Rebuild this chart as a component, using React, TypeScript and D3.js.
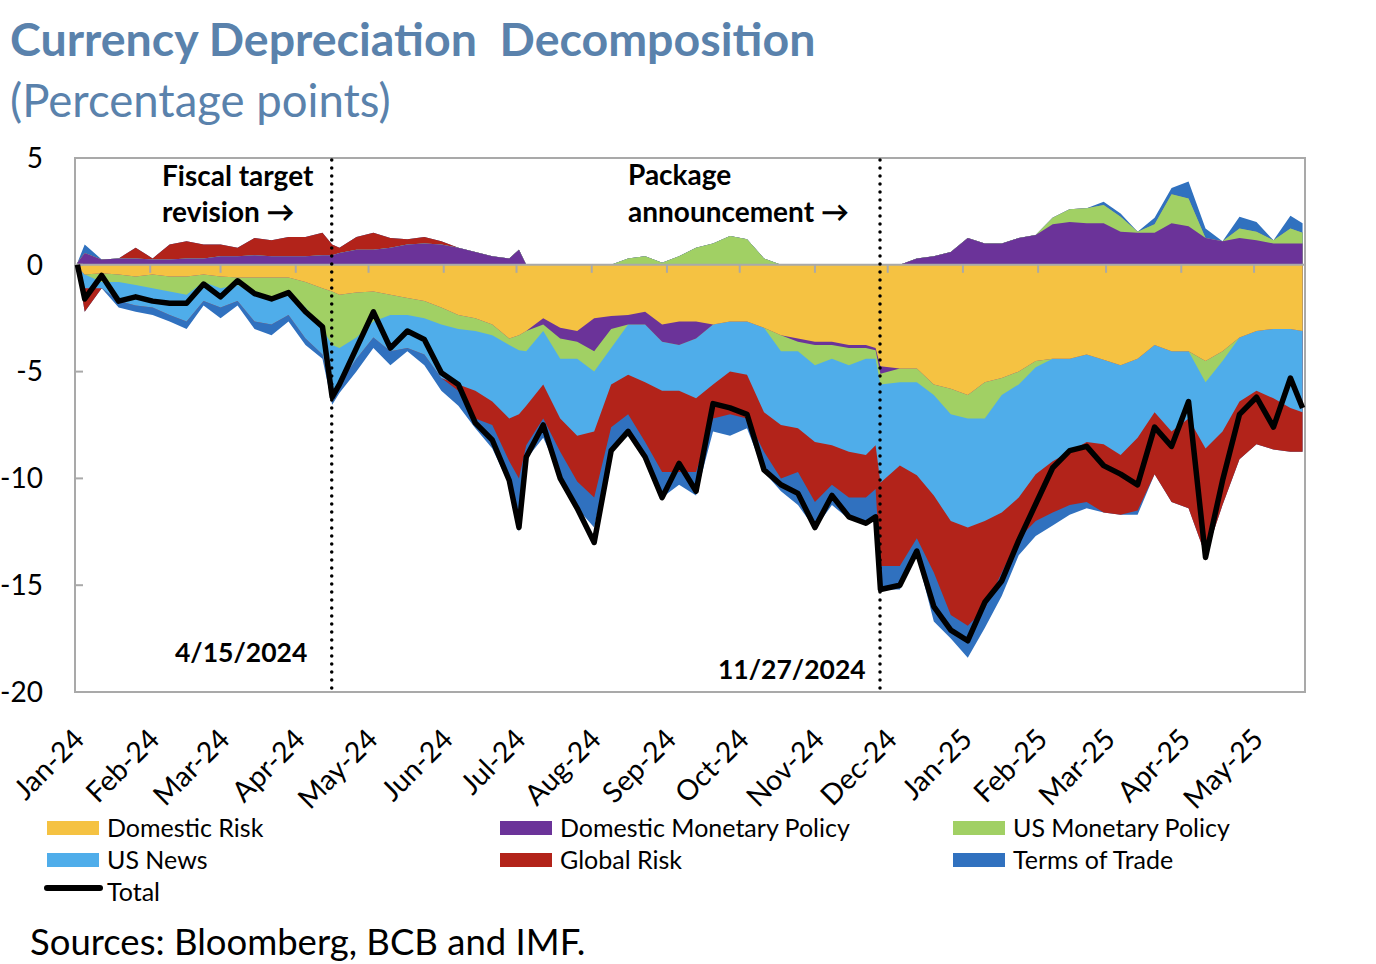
import * as d3 from "d3"

// weekly readings (plus a few event days) taken off the reference chart
const dates = [
  "2024-01-02", "2024-01-05", "2024-01-12", "2024-01-19", "2024-01-26",
  "2024-02-02", "2024-02-09", "2024-02-16", "2024-02-23",
  "2024-03-01", "2024-03-08", "2024-03-15", "2024-03-22", "2024-03-29",
  "2024-04-05", "2024-04-12", "2024-04-16", "2024-04-19", "2024-04-26",
  "2024-05-03", "2024-05-10", "2024-05-17", "2024-05-24", "2024-05-31",
  "2024-06-07", "2024-06-14", "2024-06-21", "2024-06-28",
  "2024-07-02", "2024-07-05", "2024-07-12", "2024-07-19", "2024-07-26",
  "2024-08-02", "2024-08-09", "2024-08-16", "2024-08-23", "2024-08-30",
  "2024-09-06", "2024-09-13", "2024-09-20", "2024-09-27",
  "2024-10-04", "2024-10-11", "2024-10-18", "2024-10-25",
  "2024-11-01", "2024-11-08", "2024-11-15", "2024-11-22", "2024-11-26", "2024-11-28",
  "2024-12-06", "2024-12-13", "2024-12-20", "2024-12-27",
  "2025-01-03", "2025-01-10", "2025-01-17", "2025-01-24", "2025-01-31",
  "2025-02-07", "2025-02-14", "2025-02-21", "2025-02-28",
  "2025-03-07", "2025-03-14", "2025-03-21", "2025-03-28",
  "2025-04-04", "2025-04-11", "2025-04-18", "2025-04-25",
  "2025-05-02", "2025-05-09", "2025-05-16", "2025-05-21",
]

const domesticRisk = [
  -0.1, -0.45, -0.4, -0.45, -0.55,
  -0.45, -0.55, -0.55, -0.45,
  -0.55, -0.6, -0.6, -0.6, -0.6,
  -0.8, -1.1, -1.25, -1.4, -1.3,
  -1.25, -1.4, -1.55, -1.7, -2.0,
  -2.35, -2.5, -2.8, -3.45,
  -3.3, -3.1, -2.5, -2.95, -3.1,
  -2.5, -2.4, -2.35, -2.2, -2.8,
  -2.65, -2.65, -2.8, -2.65,
  -2.65, -2.95, -3.3, -3.45,
  -3.6, -3.6, -3.75, -3.75, -3.9, -4.75,
  -4.85, -4.85, -5.6, -5.8,
  -6.1, -5.5, -5.3, -5.0, -4.5,
  -4.4, -4.4, -4.2, -4.45,
  -4.7, -4.4, -3.75, -4.05,
  -4.05, -4.5, -4.05, -3.4,
  -3.1, -3.0, -3.0, -3.1,
]

const domesticMonetaryPolicy = [
  0.1, 0.55, 0.25, 0.3, 0.3,
  0.25, 0.25, 0.3, 0.3,
  0.4, 0.4, 0.45, 0.4, 0.4,
  0.4, 0.45, 0.45, 0.55, 0.7,
  0.7, 0.8, 0.95, 1.0, 0.95,
  0.8, 0.6, 0.4, 0.3,
  0.7, 0, -0.3, -0.5, -0.5,
  -1.55, -0.6, -0.45, -0.6, -0.8,
  -1.1, -0.8, 0, 0,
  0, 0, 0, -0.15,
  -0.15, -0.15, -0.15, -0.15, -0.1, -0.35,
  0, 0.3, 0.4, 0.6,
  1.25, 1.0, 1.0, 1.25, 1.4,
  1.9, 2.0, 1.95, 1.95,
  1.55, 1.5, 1.5, 1.95,
  1.8, 1.25, 1.1, 1.25,
  1.15, 1.0, 1.0, 1.0,
]

const usMonetaryPolicy = [
  0, 0, -0.4, -0.35, -0.4,
  -0.65, -0.7, -0.85, -0.35,
  -0.55, -0.35, -0.8, -0.95, -0.8,
  -1.2, -1.9, -2.5, -2.5, -2.1,
  -1.4, -0.95, -0.8, -0.8, -0.8,
  -0.65, -0.6, -0.5, -0.3,
  -0.7, -0.95, -0.3, -0.95, -0.8,
  -0.95, -0.9, 0.3, 0.4, 0.1,
  0.4, 0.8, 1.0, 1.35,
  1.2, 0.3, -0.75, -0.45,
  -0.95, -0.65, -0.8, -0.5, -0.4, -0.5,
  -0.65, -0.65, -0.5, -1.2,
  -1.1, -1.7, -0.8, -0.6, -0.3,
  0.3, 0.6, 0.7, 0.85,
  0.7, 0.05, 0.4, 1.35,
  1.3, -1.0, -0.45, 0.45,
  0.4, 0.15, 0.7, 0.5,
]

const usNews = [
  0, -0.65, -0.3, -0.9, -0.95,
  -0.9, -1.1, -1.25, -0.9,
  -0.9, -0.75, -1.25, -1.25, -0.95,
  -1.45, -1.2, -2.35, -1.7, -1.0,
  -0.75, -1.7, -1.55, -1.7, -2.5,
  -2.6, -2.8, -3.1, -3.45,
  -3.0, -2.55, -2.5, -2.8, -3.6,
  -2.8, -1.7, -2.35, -2.7, -2.3,
  -2.15, -2.8, -2.8, -2.35,
  -2.5, -3.95, -3.45, -3.6,
  -3.6, -4.05, -4.05, -4.5, -4.05, -4.6,
  -3.9, -4.35, -4.7, -5.0,
  -5.1, -4.8, -5.5, -5.3, -5.0,
  -4.8, -4.35, -4.1, -3.95,
  -4.2, -3.7, -3.15, -3.75,
  -3.15, -3.1, -3.3, -3.0,
  -2.8, -3.25, -3.7, -3.8,
]

const globalRisk = [
  0, -1.1, 0, 0, 0.5,
  0.05, 0.7, 0.8, 0.65,
  0.55, 0.4, 0.8, 0.75, 0.9,
  0.9, 1.05, 0.5, 0.25, 0.6,
  0.8, 0.45, 0.25, 0.3, 0.15,
  -0.3, -1.3, -1.1, -2.0,
  -3.0, -1.85, -1.6, -1.55, -2.15,
  -3.1, -2.0, -1.85, -2.8, -3.8,
  -3.8, -3.45, -1.6, -2.0,
  -2.05, -1.85, -2.5, -2.05,
  -2.8, -1.85, -2.15, -2.0, -2.05, -3.9,
  -4.7, -2.95, -3.6, -4.4,
  -4.6, -4.1, -2.8, -1.9, -2.2,
  -2.4, -2.5, -2.8, -3.2,
  -2.8, -3.4, -2.9, -3.3,
  -4.2, -5.0, -3.45, -2.7,
  -2.5, -2.4, -2.05, -1.85,
]

const termsOfTrade = [
  0, 0.4, 0, -0.3, -0.3,
  -0.35, -0.3, -0.35, -0.2,
  -0.5, -0.2, -0.35, -0.5, -0.3,
  -0.3, -0.2, -0.45, -0.4, -0.6,
  -0.5, -0.65, -0.15, -0.5, -0.6,
  -0.7, -0.45, -1.1, -1.1,
  -2.5, -0.65, -0.9, -1.1, -1.25,
  -1.4, -1.1, -1.0, -0.75, -1.2,
  -0.6, -1.1, -0.6, -1.0,
  -0.45, -0.95, -0.6, -1.55,
  -1.25, -0.95, -1.0, -1.1, -1.4, -1.1,
  -1.1, -0.8, -2.3, -1.1,
  -1.5, -0.9, -1.1, -0.8, -0.7,
  -0.6, -0.45, -0.3, 0.15,
  0.15, -0.2, 0.3, 0.3,
  0.8, 0.45, 0, 0.55,
  0.45, 0, 0.6, 0.45,
]

const total = [
  0, -1.6, -0.5, -1.7, -1.5,
  -1.7, -1.8, -1.8, -0.9,
  -1.5, -0.75, -1.35, -1.6, -1.3,
  -2.2, -2.9, -6.2, -5.6, -3.9,
  -2.2, -3.9, -3.1, -3.5, -5.05,
  -5.6, -7.4, -8.2, -10.1,
  -12.3, -9.0, -7.5, -10.0, -11.4,
  -13.0, -8.7, -7.8, -9.0, -10.9,
  -9.3, -10.6, -6.5, -6.7,
  -7.0, -9.6, -10.3, -10.7,
  -12.3, -10.8, -11.8, -12.1, -11.8, -15.2,
  -15.0, -13.4, -16.0, -17.1,
  -17.6, -15.8, -14.8, -12.9, -11.2,
  -9.5, -8.7, -8.5, -9.4,
  -9.8, -10.3, -7.6, -8.5,
  -6.4, -13.7, -10.1, -7.0,
  -6.2, -7.6, -5.3, -6.7,
]

const seriesNames = [
  "Domestic Risk",
  "Domestic Monetary Policy",
  "US Monetary Policy",
  "US News",
  "Global Risk",
  "Terms of Trade",
]
const seriesColors = ["#F5C242", "#6B3399", "#A1D064", "#4FADEA", "#B2231A", "#3071BF"]

const monthLabels = [
  "Jan-24", "Feb-24", "Mar-24", "Apr-24", "May-24", "Jun-24", "Jul-24", "Aug-24", "Sep-24",
  "Oct-24", "Nov-24", "Dec-24", "Jan-25", "Feb-25", "Mar-25", "Apr-25", "May-25",
]
const yTicks = [5, 0, -5, -10, -15, -20]
const eventDates = ["2024-04-15", "2024-11-27"]

const FONT = "Lato, 'Open Sans', sans-serif"
const GREY = "#A9A9A9"

export default function App() {
  const width = 1376
  const height = 964
  const plot = { left: 75, right: 1305, top: 158, bottom: 692 }

  const parseDay = d3.timeParse("%Y-%m-%d")
  const parseMonth = d3.timeParse("%b-%y")
  const dts = dates.map((d) => parseDay(d) as Date)
  const values = [domesticRisk, domesticMonetaryPolicy, usMonetaryPolicy, usNews, globalRisk, termsOfTrade]

  const x = d3
    .scaleTime()
    .domain([new Date(2024, 0, 1), new Date(2025, 4, 22)])
    .range([plot.left, plot.right])
  const y = d3.scaleLinear().domain([-20, 5]).range([plot.bottom, plot.top])

  // split every series into its positive and negative part so bands never cross zero
  const posRows = dts.map((date, i) => {
    const r: any = { date }
    seriesNames.forEach((k, j) => (r[k] = Math.max(0, values[j][i])))
    return r
  })
  const negRows = dts.map((date, i) => {
    const r: any = { date }
    seriesNames.forEach((k, j) => (r[k] = Math.min(0, values[j][i])))
    return r
  })
  const stack = d3.stack<any>().keys(seriesNames)
  const pos = stack(posRows)
  const neg = stack(negRows)

  // paint cumulative areas outermost first, so no seams show between bands
  const area = d3
    .area<any>()
    .x((d) => x(d.data.date))
    .y0(y(0))
    .y1((d) => y(d[1]))

  const line = d3
    .line<number>()
    .x((_, i) => x(dts[i]))
    .y((d) => y(d))

  const order = d3.range(seriesNames.length).reverse()
  const months = monthLabels.map((m) => parseMonth(m) as Date)

  return (
    <svg
      width={width}
      height={height}
      style={{ position: "absolute", left: 0, top: 0, background: "#fff" }}
      fontFamily={FONT}
    >
      <text x={10} y={56} fontSize={46.5} fontWeight={700} fill="#5A82AC" style={{ whiteSpace: "pre" }}>
        {"Currency Depreciation  Decomposition"}
      </text>
      <text x={10} y={117} fontSize={45.5} fill="#5A82AC">
        (Percentage points)
      </text>

      {/* stacked contributions */}
      {order.map((k) => (
        <path key={"p" + k} d={area(pos[k]) || ""} fill={seriesColors[k]} />
      ))}
      {order.map((k) => (
        <path key={"n" + k} d={area(neg[k]) || ""} fill={seriesColors[k]} />
      ))}

      {/* plot frame, zero line and ticks */}
      <rect
        x={plot.left}
        y={plot.top}
        width={plot.right - plot.left}
        height={plot.bottom - plot.top}
        fill="none"
        stroke={GREY}
        strokeWidth={2}
      />
      <line x1={plot.left} x2={plot.right} y1={y(0)} y2={y(0)} stroke={GREY} strokeWidth={2} />
      {months.map((m, i) => (
        <line key={"mt" + i} x1={x(m)} x2={x(m)} y1={y(0)} y2={y(0) + 8} stroke={GREY} strokeWidth={2} />
      ))}
      {yTicks.map((t) => (
        <line key={"yt" + t} x1={plot.left} x2={plot.left + 8} y1={y(t)} y2={y(t)} stroke={GREY} strokeWidth={2} />
      ))}
      {yTicks.map((t) => (
        <text key={"yl" + t} x={43} y={y(t)} dy="0.35em" textAnchor="end" fontSize={28} fill="#000">
          {t}
        </text>
      ))}
      {months.map((m, i) => (
        <text
          key={"ml" + i}
          transform={`translate(${x(m) + 11},${741}) rotate(-45)`}
          textAnchor="end"
          fontSize={28.5}
          fill="#000"
        >
          {monthLabels[i]}
        </text>
      ))}

      {/* event markers */}
      {eventDates.map((d) => {
        const xe = x(parseDay(d) as Date) + 2
        return (
          <line
            key={d}
            x1={xe}
            x2={xe}
            y1={plot.top + 2}
            y2={plot.bottom}
            stroke="#000"
            strokeWidth={3.5}
            strokeLinecap="round"
            strokeDasharray="0 8"
          />
        )
      })}

      <path d={line(total) || ""} fill="none" stroke="#000" strokeWidth={5.5} strokeLinejoin="round" />

      <g fontSize={28} fontWeight={700} fill="#000">
        <text x={162} y={186}>Fiscal target</text>
        <text x={162} y={222}>revision →</text>
        <text x={628} y={185}>Package</text>
        <text x={628} y={222}>announcement →</text>
      </g>
      <g fontSize={26.5} fontWeight={700} fill="#000">
        <text x={175} y={662}>4/15/2024</text>
        <text x={718} y={679}>11/27/2024</text>
      </g>

      {/* legend */}
      {seriesNames.map((name, i) => {
        const lx = [47, 500, 953][i % 3]
        const ly = 828 + Math.floor(i / 3) * 32
        return (
          <g key={name}>
            <rect x={lx} y={ly - 7} width={52} height={14} fill={seriesColors[i]} />
            <text x={lx + 60} y={ly} dy="0.35em" fontSize={25} fill="#000">
              {name}
            </text>
          </g>
        )
      })}
      <line x1={47} x2={100} y1={888} y2={888} stroke="#000" strokeWidth={6} strokeLinecap="round" />
      <text x={107} y={892} dy="0.35em" fontSize={25} fill="#000">
        Total
      </text>

      <text x={30} y={955} fontSize={36.5} fill="#000">
        Sources: Bloomberg, BCB and IMF.
      </text>
    </svg>
  )
}
